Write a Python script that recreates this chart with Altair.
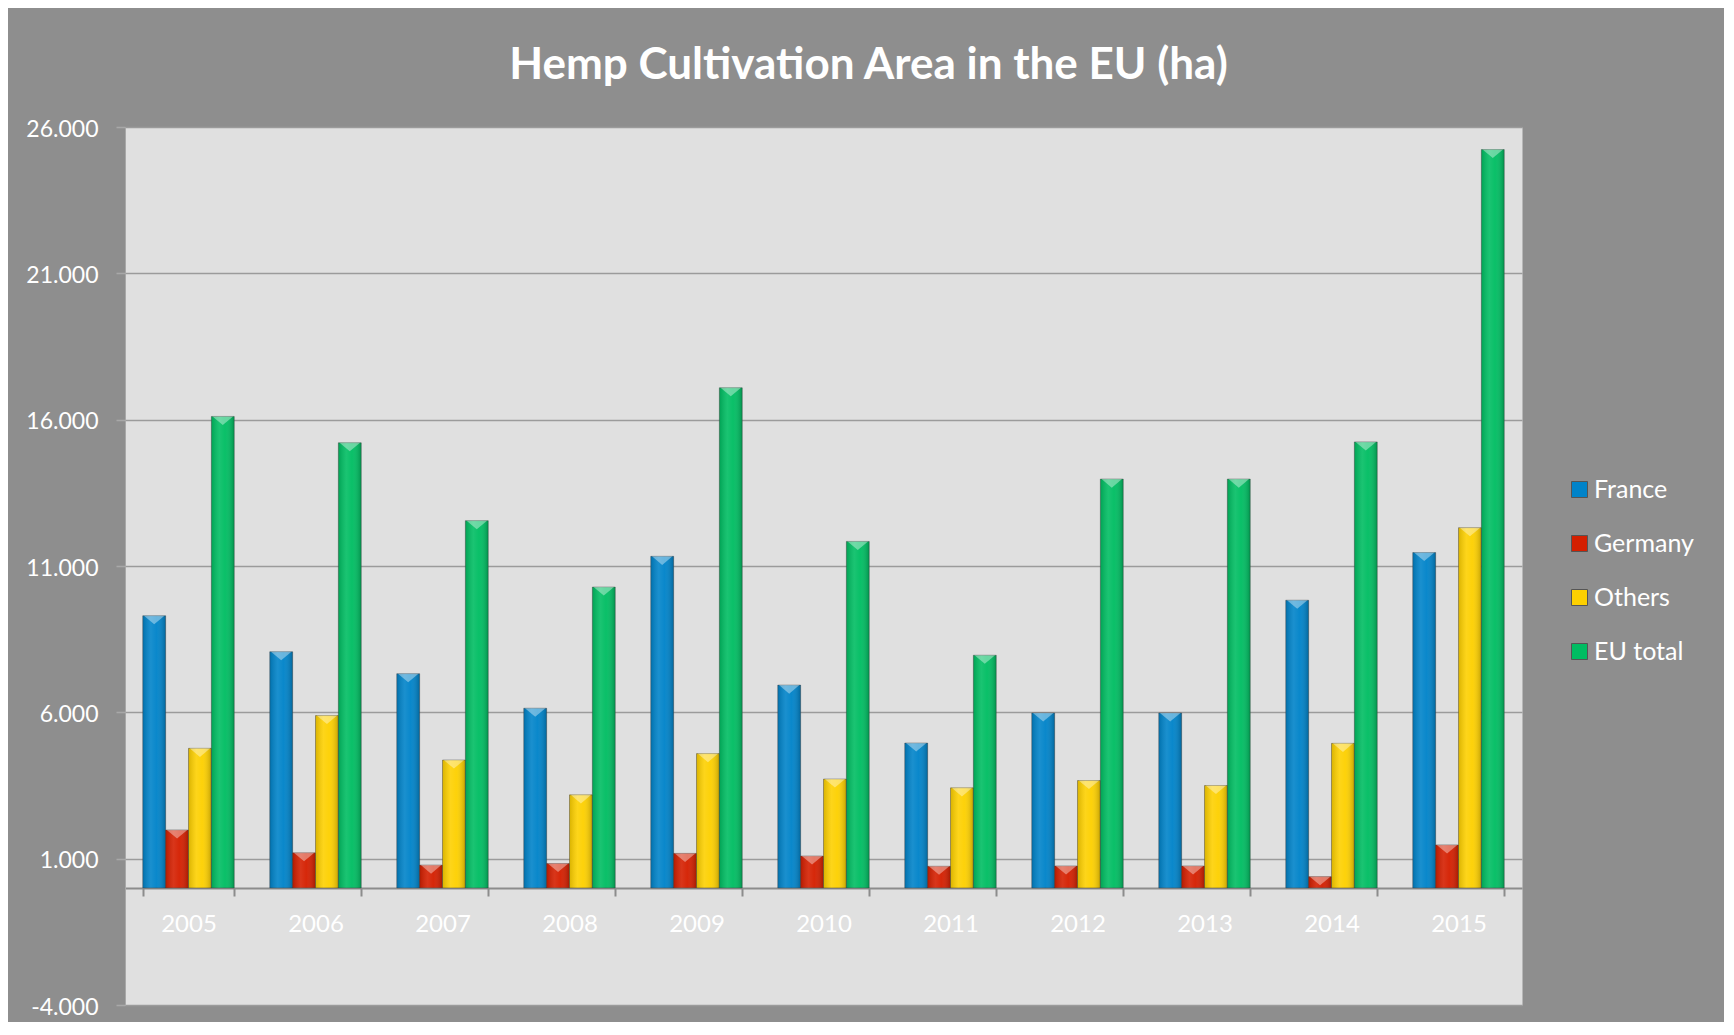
import altair as alt
import pandas as pd

years = ["2005", "2006", "2007", "2008", "2009", "2010", "2011", "2012", "2013", "2014", "2015"]
series = ["France", "Germany", "Others", "EU total"]
france = [9300, 8070, 7320, 6140, 11330, 6930, 4950, 5980, 5980, 9830, 11460]
germany = [1980, 1200, 780, 835, 1180, 1090, 740, 750, 750, 385, 1470]
others = [4770, 5890, 4370, 3180, 4590, 3720, 3420, 3670, 3500, 4940, 12310]
eu_total = [16110, 15210, 12550, 10280, 17090, 11840, 7950, 13970, 13970, 15240, 25230]
colors = ["#0083c9", "#d41f00", "#fdd000", "#00bd62"]
y_ticks = [-4000, 1000, 6000, 11000, 16000, 21000, 26000]

rows = []
for name, vals in zip(series, [france, germany, others, eu_total]):
    for yr, v in zip(years, vals):
        rows.append({"year": yr, "series": name, "value": v})
df = pd.DataFrame(rows)

W, H = 1397, 878
FONT = "Lato"

x_enc = alt.X(
    "year:N", sort=years, title=None,
    scale=alt.Scale(paddingInner=0.28, paddingOuter=0.14),
    axis=alt.Axis(
        offset=-117, labelAngle=0, labelFont=FONT, labelFontSize=24, labelColor="white",
        labelPadding=16, tickBand="extent", tickSize=8, tickColor="#8c8c8c", tickWidth=2,
        domainColor="#8c8c8c", domainWidth=2, grid=False,
    ),
)
xoff_enc = alt.XOffset("series:N", sort=series, scale=alt.Scale(paddingInner=0, paddingOuter=0))
y_enc = alt.Y(
    "value:Q", title=None,
    scale=alt.Scale(domain=[-4000, 26000], nice=False),
    axis=alt.Axis(
        values=y_ticks,
        labelExpr="(datum.value < 0 ? '-' : '') + replace(format(abs(datum.value), ','), ',', '.')",
        labelFont=FONT, labelFontSize=23, labelColor="white", labelPadding=18, labelOffset=2,
        tickSize=9, tickColor="#a8a8a8", tickWidth=1.5,
        grid=True, gridColor="#9b9b9b", gridWidth=1.5,
        domainColor="#a8a8a8", domainWidth=1,
    ),
)

base = alt.Chart(df).encode(x=x_enc, xOffset=xoff_enc, y=y_enc, y2=alt.datum(0))

bars = base.mark_bar(stroke="#444444", strokeWidth=1, strokeOpacity=0.45).encode(
    color=alt.Color(
        "series:N", title=None,
        scale=alt.Scale(domain=series, range=colors),
        legend=alt.Legend(
            orient="none", legendX=1442, legendY=350, symbolType="square", symbolSize=256,
            symbolStrokeColor="#555555", symbolStrokeWidth=1,
            labelFont=FONT, labelFontSize=25, labelColor="white", labelOffset=2, rowPadding=28,
        ),
    )
)

gloss = base.mark_bar(
    color=alt.LinearGradient(
        gradient="linear", x1=0, x2=1, y1=0, y2=0,
        stops=[
            alt.GradientStop(offset=0, color="rgba(0,0,0,0.14)"),
            alt.GradientStop(offset=0.35, color="rgba(255,255,255,0.10)"),
            alt.GradientStop(offset=0.6, color="rgba(255,255,255,0.04)"),
            alt.GradientStop(offset=1, color="rgba(0,0,0,0.22)"),
        ],
    )
)

bevel = alt.Chart(df).mark_point(
    shape="M-0.9,0 L0.9,0 L0,0.75 Z", filled=True, fill="white", opacity=0.38, size=520,
).encode(x=x_enc, xOffset=xoff_enc, y=y_enc)

chart = alt.layer(bars, gloss, bevel).properties(
    width=W, height=H,
    title=alt.Title(
        "Hemp Cultivation Area in the EU (ha)", font=FONT, fontSize=44, fontWeight="bold",
        color="white", anchor="middle", frame="group", dx=45, dy=41, offset=36,
        baseline="alphabetic",
    ),
    padding={"left": 117, "top": 119, "right": 202, "bottom": 17},
    autosize=alt.AutoSizeParams(type="none"),
    background="#8e8e8e",
).configure_view(fill="#e0e0e0", stroke="transparent")

chart.save("out.html", embed_options={"renderer": "svg", "actions": False})
